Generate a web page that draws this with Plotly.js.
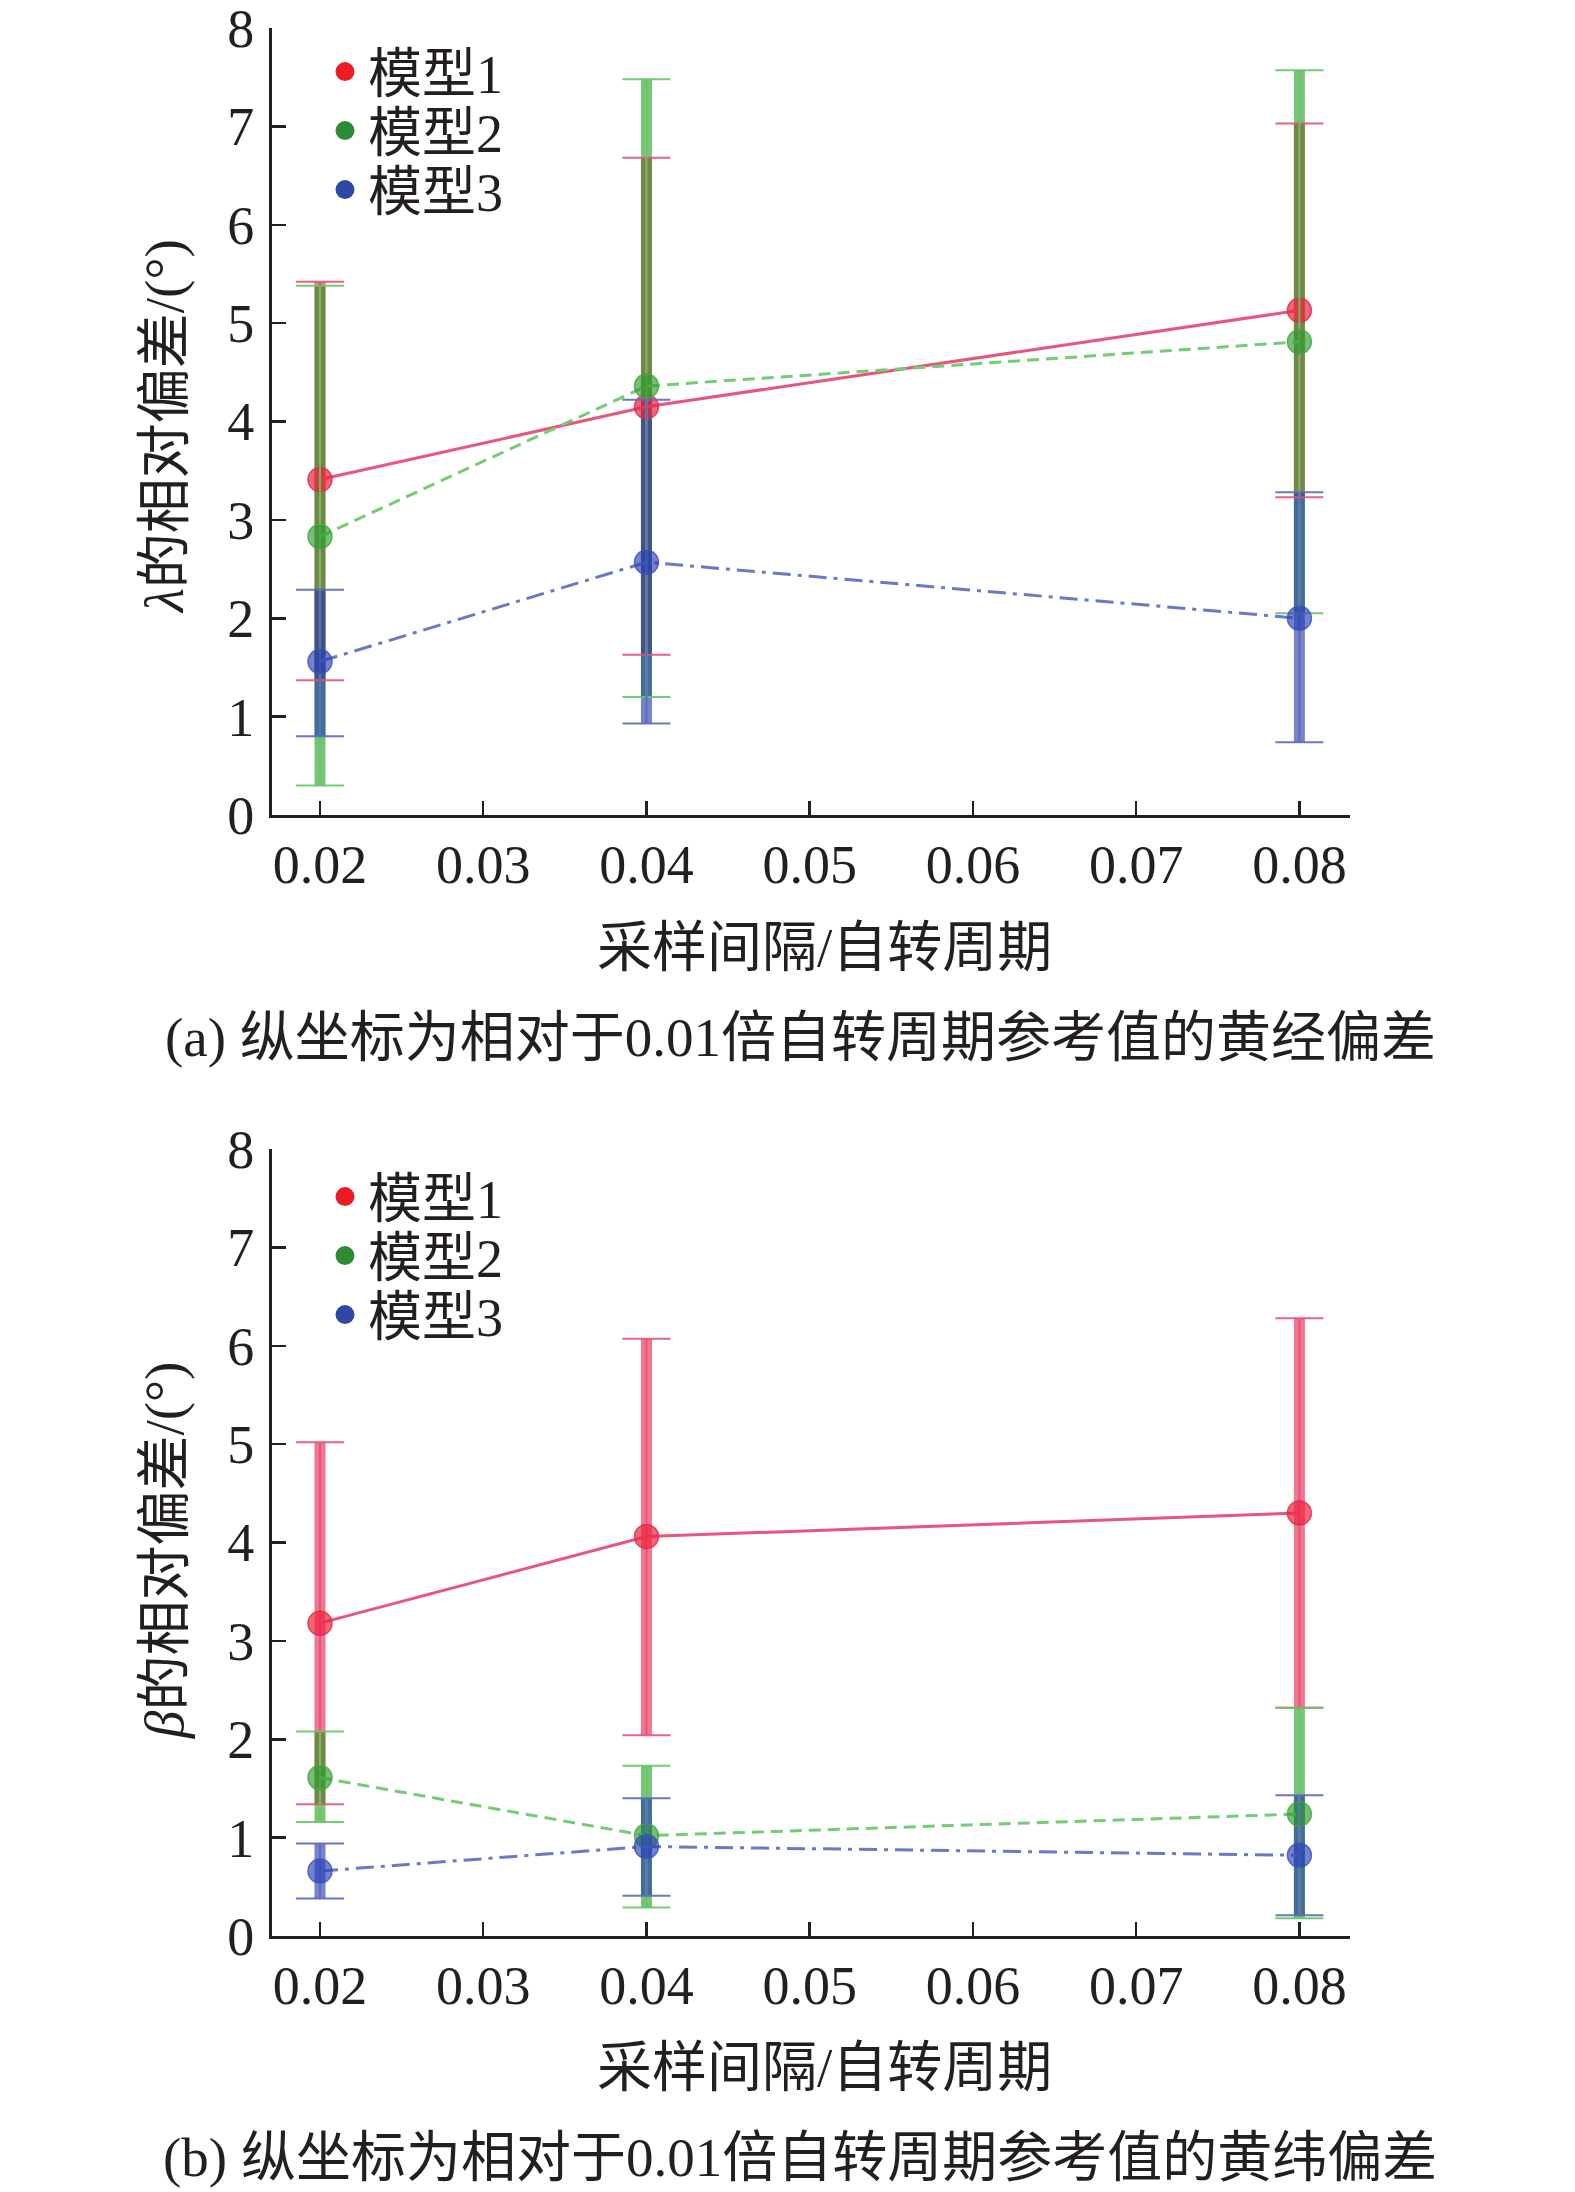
<!DOCTYPE html>
<html>
<head>
<meta charset="utf-8">
<script src="https://cdn.plot.ly/plotly-3.0.1.min.js"></script>
<style>
  body { margin: 0; background: #fff; }
  #chart { width: 1575px; height: 2192px; }
</style>
</head>
<body>
<div id="chart"></div>
<script>
// sampling interval / rotation period
var xs = [0.02, 0.04, 0.08];
var seriesNames = ['模型1', '模型2', '模型3'];

// (a) longitude deviation λ
var lamMean = [[3.41, 4.15, 5.13], [2.83, 4.36, 4.81], [1.56, 2.57, 2.00]];
var lamUpper = [[5.42, 6.68, 7.03], [5.38, 7.48, 7.57], [2.29, 4.22, 3.28]];
var lamLower = [[1.37, 1.63, 3.23], [0.30, 1.20, 2.05], [0.80, 0.93, 0.74]];

// (b) latitude deviation β
var betMean = [[3.18, 4.06, 4.30], [1.61, 1.02, 1.24], [0.66, 0.91, 0.82]];
var betUpper = [[5.02, 6.07, 6.28], [2.08, 1.73, 2.32], [0.94, 1.40, 1.43]];
var betLower = [[1.34, 2.04, 2.32], [1.16, 0.29, 0.18], [0.38, 0.41, 0.21]];

var xTicks = [0.02, 0.03, 0.04, 0.05, 0.06, 0.07, 0.08];
var yTicks = [0, 1, 2, 3, 4, 5, 6, 7, 8];

var barColor = ['rgba(235,60,100,0.7)', 'rgba(10,150,10,0.55)', 'rgba(35,55,170,0.62)'];
var capColor = ['rgba(232,80,120,0.9)', 'rgba(100,200,100,0.9)', 'rgba(90,105,195,0.9)'];
var lineColor = ['rgb(232,85,125)', 'rgb(115,205,115)', 'rgb(105,120,200)'];
var dotFill = ['rgba(238,35,60,0.7)', 'rgba(45,155,45,0.65)', 'rgba(40,65,180,0.65)'];
var dotEdge = ['rgba(220,40,80,0.8)', 'rgba(60,170,60,0.8)', 'rgba(60,80,190,0.8)'];
var legendDot = ['#ec1c24', '#2e8b35', '#2f48a8'];
var dashes = ['solid', '12px,7px', '18px,7px,4px,7px'];

var ink = '#231f20';
var serif = 'Liberation Serif, Noto Sans CJK SC, serif';

function diff(a, b) {
  return a.map(function (v, i) { return v - b[i]; });
}

function panel(mean, upper, lower, xa, ya, legs) {
  var out = [];
  // thick translucent bars
  for (var i = 0; i < 3; i++) {
    out.push({
      x: xs, y: mean[i], xaxis: xa, yaxis: ya,
      type: 'scatter', mode: 'markers',
      marker: {size: 1, opacity: 0},
      error_y: {
        type: 'data', symmetric: false,
        array: diff(upper[i], mean[i]),
        arrayminus: diff(mean[i], lower[i]),
        thickness: 11, width: 0, color: barColor[i]
      },
      showlegend: false, hoverinfo: 'skip'
    });
  }
  // lines, dots and thin caps
  for (var j = 0; j < 3; j++) {
    out.push({
      x: xs, y: mean[j], xaxis: xa, yaxis: ya,
      type: 'scatter', mode: 'lines+markers',
      line: {color: lineColor[j], width: 3, dash: dashes[j]},
      marker: {size: 24, color: dotFill[j], line: {color: dotEdge[j], width: 1.5}},
      error_y: {
        type: 'data', symmetric: false,
        array: diff(upper[j], mean[j]),
        arrayminus: diff(mean[j], lower[j]),
        thickness: 2, width: 24, color: capColor[j]
      },
      showlegend: false
    });
  }
  // legend entries, one legend box each so the rows sit where they should
  for (var k = 0; k < 3; k++) {
    out.push({
      x: [null], y: [null], xaxis: xa, yaxis: ya,
      type: 'scatter', mode: 'markers',
      name: seriesNames[k],
      marker: {size: 16, color: legendDot[k], line: {color: legendDot[k], width: 3}},
      legend: legs[k], showlegend: true
    });
  }
  return out;
}

var data = panel(lamMean, lamUpper, lamLower, 'x', 'y', ['legend', 'legend2', 'legend3'])
  .concat(panel(betMean, betUpper, betLower, 'x2', 'y2', ['legend4', 'legend5', 'legend6']));

function xAxis(anchor, dom) {
  return {
    domain: dom, anchor: anchor,
    range: [0.01706, 0.0831],
    tickvals: xTicks, tickformat: '.2f',
    ticks: 'inside', ticklen: 14, tickwidth: 2.5, tickcolor: ink,
    showline: true, linecolor: ink, linewidth: 3,
    showgrid: false, zeroline: false,
    tickfont: {family: serif, size: 54, color: ink},
    ticklabelstandoff: 0, ticklabeloverflow: 'allow'
  };
}

function yAxis(anchor, dom) {
  return {
    domain: dom, anchor: anchor,
    range: [0, 8],
    tickvals: yTicks,
    ticks: 'inside', ticklen: 14, tickwidth: 2.5, tickcolor: ink,
    showline: true, linecolor: ink, linewidth: 3,
    showgrid: false, zeroline: false,
    tickfont: {family: serif, size: 54, color: ink},
    ticklabelstandoff: 4, ticklabeloverflow: 'allow'
  };
}

var xDom = [272 / 1575, 1350 / 1575];

function legendBox(rowY) {
  return {
    x: 322 / 1575, xanchor: 'left',
    y: (2192 - rowY) / 2192, yanchor: 'middle',
    bgcolor: 'rgba(0,0,0,0)',
    itemwidth: 36,
    font: {family: serif, size: 54, color: ink}
  };
}

function note(text, x, y, size, angle) {
  return {
    text: text, xref: 'paper', yref: 'paper', x: x, y: y,
    xanchor: 'center', yanchor: 'middle', showarrow: false,
    textangle: angle || 0,
    font: {family: serif, size: size, color: ink}
  };
}

var layout = {
  width: 1575, height: 2192,
  margin: {l: 0, r: 0, t: 0, b: 0},
  paper_bgcolor: '#fff', plot_bgcolor: '#fff',
  showlegend: true,
  xaxis: xAxis('y', xDom),
  yaxis: yAxis('x', [(2192 - 815) / 2192, (2192 - 28) / 2192]),
  xaxis2: xAxis('y2', xDom),
  yaxis2: yAxis('x2', [(2192 - 1936) / 2192, (2192 - 1149) / 2192]),
  legend: legendBox(72),
  legend2: legendBox(131),
  legend3: legendBox(190),
  legend4: legendBox(1197),
  legend5: legendBox(1256),
  legend6: legendBox(1315),
  annotations: [
    note('<i>λ</i>的相对偏差/(°)', 164 / 1575, (2192 - 427) / 2192, 55, -90),
    note('采样间隔/自转周期', 824 / 1575, (2192 - 947) / 2192, 55),
    note('(a) 纵坐标为相对于0.01倍自转周期参考值的黄经偏差', 800 / 1575, (2192 - 1037) / 2192, 55),
    note('<i>β</i>的相对偏差/(°)', 164 / 1575, (2192 - 1551) / 2192, 55, -90),
    note('采样间隔/自转周期', 824 / 1575, (2192 - 2067) / 2192, 55),
    note('(b) 纵坐标为相对于0.01倍自转周期参考值的黄纬偏差', 800 / 1575, (2192 - 2157) / 2192, 55)
  ]
};

Plotly.newPlot('chart', data, layout, {staticPlot: true});
</script>
</body>
</html>
